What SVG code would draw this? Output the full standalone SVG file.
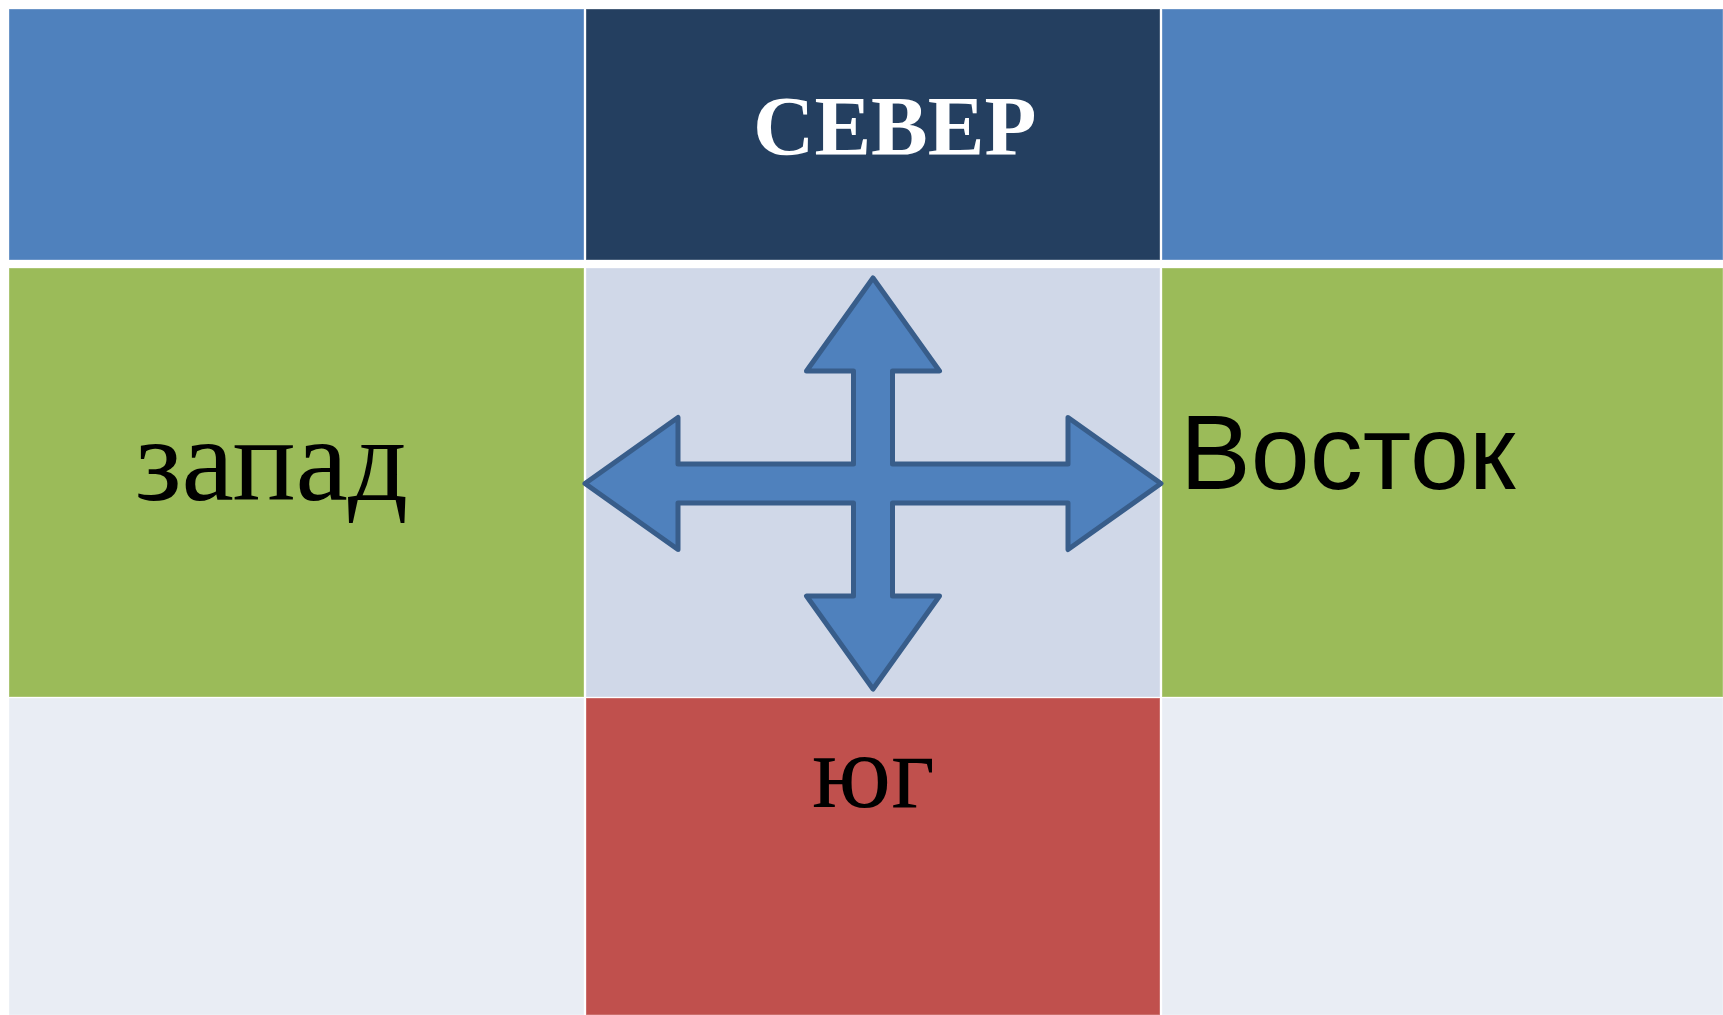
<svg xmlns="http://www.w3.org/2000/svg" width="1723" height="1015" viewBox="0 0 1723 1015">
  <style>
    .cell { stroke: #ffffff; stroke-opacity: 0.35; stroke-width: 1; }
    .serif { font-family: "Liberation Serif", "Times New Roman", serif; }
    .sans { font-family: "Liberation Sans", Arial, sans-serif; }
  </style>
  <rect x="0" y="0" width="1723" height="1015" fill="#ffffff"/>
  <g id="cell-top-left"><rect class="cell" x="9" y="9" width="575" height="251" fill="#4F81BD"/></g>
  <g id="north">
    <rect class="cell" x="586" y="9" width="574" height="251" fill="#243F60"/>
    <text class="serif" x="753" y="155" font-size="85" font-weight="bold" fill="#ffffff">СЕВЕР</text>
  </g>
  <g id="cell-top-right"><rect class="cell" x="1162" y="9" width="561" height="251" fill="#4F81BD"/></g>
  <g id="west">
    <rect class="cell" x="9" y="268" width="575" height="429" fill="#9BBB59"/>
    <text class="serif" x="135" y="500" font-size="118" fill="#000000">запад</text>
  </g>
  <g id="center"><rect class="cell" x="586" y="268" width="574" height="429" fill="#D0D8E8"/></g>
  <g id="east">
    <rect class="cell" x="1162" y="268" width="561" height="429" fill="#9BBB59"/>
    <text class="sans" x="1180" y="489" font-size="106" fill="#000000">Восток</text>
  </g>
  <g id="cell-bottom-left"><rect class="cell" x="9" y="698" width="575" height="317" fill="#E9EDF4"/></g>
  <g id="south">
    <rect class="cell" x="586" y="698" width="574" height="317" fill="#C0504D"/>
    <text class="serif" x="812" y="807" font-size="106" fill="#000000">юг</text>
  </g>
  <g id="cell-bottom-right"><rect class="cell" x="1162" y="698" width="561" height="317" fill="#E9EDF4"/></g>
  <g id="connectors">
    <path d="M873,278 L939.5,371 L892.5,371 L892.5,464 L1068,464 L1068,417.5 L1161,483.5 L1068,549.5 L1068,503 L892.5,503 L892.5,596 L939.5,596 L873,689 L806.5,596 L853.5,596 L853.5,503 L678,503 L678,549.5 L585,483.5 L678,417.5 L678,464 L853.5,464 L853.5,371 L806.5,371 Z" fill="#4F81BD" stroke="#385D8A" stroke-width="5" stroke-linejoin="round"/>
  </g>
</svg>
